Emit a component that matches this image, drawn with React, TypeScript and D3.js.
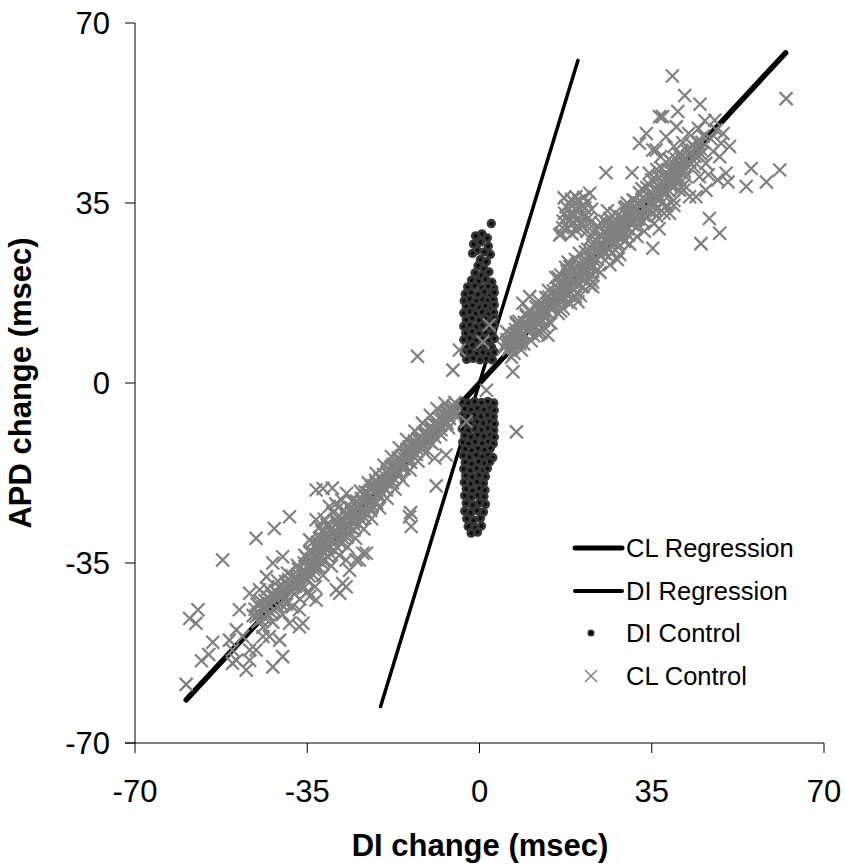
import React from "react";
import * as d3 from "d3";

const W = 845;
const H = 865;

const xTicks = [-70, -35, 0, 35, 70];
const yTicks = [-70, -35, 0, 35, 70];
const xTitle = "DI change (msec)";
const yTitle = "APD change (msec)";
const legendLabels = ["CL Regression", "DI Regression", "DI Control", "CL Control"];

// regression line end points (data units)
const clRegX = [-59.6, 62.2];
const clRegY = [-61.6, 64.2];
const diRegX = [-20.1, 20.0];
const diRegY = [-62.9, 62.7];

// DI Control points (x, y)
const diControl: [number, number][] = [
  [2.4, 31.0], [-0.8, 28.6], [0.5, 29.0], [1.6, 28.2], [-1.2, 27.0], [0.2, 27.4], [1.8, 26.6],
  [-0.5, 25.8], [1.0, 25.5], [2.2, 25.0], [-1.4, 25.2],
  [0.2, 24.0], [1.4, 23.6], [-0.3, 22.8], [0.9, 22.2], [1.9, 21.6], [-0.9, 21.4], [0.4, 20.9],
  [-1.6, 20.0], [-0.2, 19.8], [1.2, 20.2], [2.5, 19.6],
  [-2.4, 18.7], [-1.0, 18.9], [0.5, 18.5], [1.8, 18.8], [2.9, 18.4],
  [-2.9, 17.3], [-1.7, 17.6], [-0.3, 17.2], [1.0, 17.7], [2.2, 17.1], [3.0, 17.6],
  [-3.1, 16.0], [-2.0, 16.4], [-0.7, 15.9], [0.6, 16.3], [1.7, 16.0], [2.8, 16.2],
  [-2.7, 14.9], [-1.4, 15.1], [0.0, 14.7], [1.2, 15.0], [2.4, 14.6], [3.0, 15.2],
  [-3.2, 13.6], [-2.0, 13.9], [-0.8, 13.5], [0.5, 13.8], [1.8, 13.4], [2.9, 13.7],
  [-2.7, 12.3], [-1.5, 12.6], [-0.1, 12.2], [1.2, 12.5], [2.4, 12.1], [3.0, 12.6],
  [-3.2, 11.0], [-2.0, 11.3], [-0.7, 10.9], [0.6, 11.2], [1.8, 10.8], [2.9, 11.3],
  [-2.8, 9.7], [-1.5, 10.0], [-0.1, 9.6], [1.2, 9.9], [2.5, 9.5],
  [-3.2, 8.4], [-2.0, 8.7], [-0.7, 8.3], [0.6, 8.6], [1.8, 8.2], [3.0, 8.6],
  [-2.7, 7.1], [-1.4, 7.4], [0.0, 7.0], [1.3, 7.3], [2.5, 6.9],
  [-3.1, 5.8], [-2.0, 6.1], [-0.6, 5.7], [0.7, 6.0], [1.9, 5.6], [3.0, 6.0],
  [-2.6, 4.6], [-1.3, 4.8], [0.1, 4.5], [1.4, 4.7], [2.6, 4.5],
  [-3.5, -3.7], [-2.3, -3.9], [-1.0, -3.6], [0.4, -3.8], [1.7, -3.6], [2.9, -3.9],
  [-3.0, -5.0], [-1.7, -5.2], [-0.4, -4.9], [0.9, -5.2], [2.2, -4.9], [3.0, -5.3],
  [-3.6, -6.3], [-2.4, -6.5], [-1.1, -6.2], [0.3, -6.5], [1.6, -6.2], [2.8, -6.6],
  [-3.1, -7.6], [-1.9, -7.9], [-0.5, -7.5], [0.8, -7.8], [2.1, -7.5], [3.0, -7.9],
  [-3.5, -8.9], [-2.3, -9.2], [-1.0, -8.8], [0.4, -9.1], [1.7, -8.8], [2.9, -9.2],
  [-3.0, -10.2], [-1.7, -10.5], [-0.4, -10.1], [0.9, -10.4], [2.2, -10.1], [3.0, -10.5],
  [-3.4, -11.5], [-2.2, -11.8], [-0.9, -11.4], [0.5, -11.7], [1.8, -11.4], [2.8, -11.8],
  [-2.9, -12.8], [-1.6, -13.1], [-0.3, -12.7], [1.0, -13.0], [2.2, -12.7],
  [-3.3, -14.1], [-2.0, -14.4], [-0.7, -14.0], [0.6, -14.3], [1.8, -14.0], [2.7, -14.5],
  [-2.9, -15.4], [-1.6, -15.7], [-0.2, -15.3], [1.1, -15.6], [2.1, -15.3],
  [-3.2, -16.7], [-1.9, -17.0], [-0.6, -16.6], [0.7, -16.9], [1.6, -16.6],
  [-2.8, -18.0], [-1.5, -18.3], [-0.1, -17.9], [1.2, -18.2],
  [-3.1, -19.3], [-1.8, -19.6], [-0.5, -19.2], [0.8, -19.5],
  [-2.7, -20.6], [-1.4, -20.9], [0.0, -20.5], [1.1, -20.8],
  [-3.0, -21.9], [-1.7, -22.2], [-0.4, -21.8], [0.9, -22.1],
  [-2.7, -23.4], [-1.4, -23.7], [0.0, -23.3], [1.2, -23.6],
  [-3.0, -24.9], [-1.8, -25.2], [-0.5, -24.8], [0.8, -25.1],
  [-2.6, -26.4], [-1.2, -26.7], [0.2, -26.3],
  [-2.3, -27.9], [-0.9, -28.2], [0.4, -27.8],
  [-1.7, -29.2], [-0.4, -29.0],
];

// CL Control points (x, y)
const clControl: [number, number][] = [
  // lower scattered
  [-59.6, -58.6], [-58.9, -45.8], [-57.2, -44.1], [-57.6, -46.7], [-56.5, -54.0], [-55.0, -52.8],
  [-54.2, -50.4], [-52.2, -34.4], [-50.8, -50.0], [-50.2, -51.9], [-50.2, -54.5], [-49.4, -53.9],
  [-49.4, -48.0], [-48.8, -44.1], [-48.1, -49.3], [-47.4, -55.8], [-46.7, -53.9], [-46.7, -51.9],
  [-46.7, -40.9], [-45.4, -45.4], [-45.4, -30.2], [-45.4, -51.9], [-44.7, -40.2], [-44.0, -49.3],
  [-44.0, -43.5], [-43.3, -37.7], [-42.7, -49.3], [-42.0, -55.2], [-42.0, -41.5], [-42.0, -35.0],
  [-41.7, -28.3], [-40.6, -50.0], [-40.0, -53.2], [-40.0, -40.2], [-40.0, -33.8], [-38.6, -26.0],
  [-38.6, -46.7], [-37.9, -39.0], [-36.6, -47.4], [-36.6, -44.1], [-35.9, -46.7], [-34.5, -41.5],
  [-33.2, -42.2], [-33.2, -26.6], [-33.2, -20.8], [-31.8, -20.5], [-29.9, -20.4], [-29.1, -40.2],
  [-28.4, -40.9], [-27.8, -39.0], [-27.1, -39.6], [-27.1, -34.4], [-26.4, -36.4], [-25.1, -34.4],
  [-24.4, -34.4], [-23.7, -33.1], [-23.0, -33.1], [-14.2, -26.0], [-13.9, -27.9], [-14.0, -25.2],
  [-8.8, -20.0], [-9.1, -14.6], [-6.8, -14.0], [-12.6, 5.2], [-5.4, 2.5], [-4.1, 6.4],
  [1.4, -1.4], [-2.7, -7.5], [0.7, 8.0], [2.0, 11.3], [6.8, 2.2], [7.5, -9.5],
  // lower band
  [-46.0, -45.2], [-45.2, -43.0], [-44.5, -46.1], [-44.1, -44.0], [-43.6, -42.3], [-43.0, -45.0],
  [-42.6, -43.4], [-42.2, -41.0], [-41.7, -44.2], [-41.2, -42.0], [-40.8, -39.6], [-40.3, -43.0],
  [-39.8, -41.2], [-39.4, -38.6], [-39.0, -42.4], [-38.5, -40.1], [-38.1, -37.5], [-37.6, -41.0],
  [-37.2, -38.8], [-36.8, -36.2],
  [-45.6, -44.0], [-44.8, -45.0], [-44.3, -42.6], [-43.3, -43.9], [-42.9, -41.7], [-42.4, -44.6],
  [-41.5, -40.4], [-41.0, -43.4], [-40.5, -41.5], [-39.6, -39.9], [-39.2, -43.0], [-38.8, -38.2],
  [-38.0, -40.6], [-37.4, -39.5], [-36.9, -37.3],
  [-45.0, -46.4], [-43.8, -45.5], [-42.8, -42.9], [-41.9, -42.6], [-40.9, -41.1], [-39.9, -42.3],
  [-39.1, -39.3], [-38.2, -38.9], [-37.3, -37.8], [-36.6, -38.4],
  [-36.3, -39.1], [-35.8, -37.6], [-35.6, -35.0], [-35.0, -38.4], [-34.8, -36.0], [-34.1, -34.2],
  [-33.8, -37.3], [-33.6, -34.9], [-33.0, -32.4], [-32.6, -35.9], [-32.4, -33.2], [-31.8, -31.0],
  [-31.6, -34.6], [-31.0, -32.4], [-30.8, -29.7], [-30.2, -33.3], [-29.8, -30.5], [-29.6, -28.9],
  [-29.0, -31.9], [-28.8, -29.2], [-28.2, -27.5], [-27.8, -30.1], [-27.6, -28.5], [-27.0, -26.2],
  [-26.8, -29.3], [-26.2, -26.6], [-25.8, -24.9], [-25.6, -27.4], [-25.0, -25.7], [-24.8, -23.1],
  [-24.2, -26.5], [-23.8, -24.4], [-23.6, -21.7], [-23.0, -25.2], [-22.8, -22.5], [-22.2, -20.9],
  [-21.8, -23.8], [-21.6, -21.2], [-21.0, -19.4], [-20.6, -22.0], [-20.4, -19.9],
  [-30.5, -24.0], [-29.2, -23.5], [-28.0, -22.8], [-31.5, -26.5], [-27.0, -21.5], [-32.5, -28.0],
  [-34.5, -30.5],
  [-36.0, -36.5], [-35.7, -39.8], [-35.3, -36.7], [-35.1, -34.0], [-34.6, -37.5], [-34.3, -35.3],
  [-34.0, -32.8], [-33.7, -36.2], [-33.3, -33.8], [-33.1, -31.5], [-32.8, -34.4], [-32.2, -32.3],
  [-32.0, -30.2], [-31.7, -33.0], [-31.3, -31.6], [-31.1, -29.2], [-30.6, -32.0], [-30.4, -30.6],
  [-30.0, -28.2], [-29.7, -31.2], [-29.3, -29.8], [-28.9, -27.3], [-28.6, -30.4], [-28.4, -28.5],
  [-28.0, -26.3], [-27.7, -29.3], [-27.3, -27.6], [-26.9, -25.4], [-26.6, -28.1], [-26.4, -26.0],
  [-26.0, -24.3], [-25.7, -26.9], [-25.3, -25.0], [-25.0, -23.0], [-24.6, -25.8], [-24.4, -24.1],
  [-24.0, -22.4], [-23.7, -25.0], [-23.4, -23.2], [-23.2, -21.2], [-22.6, -23.8], [-22.4, -22.0],
  [-22.0, -20.2], [-21.7, -22.6], [-21.3, -21.0], [-21.1, -18.9], [-20.8, -21.5], [-20.5, -20.3],
  [-20.2, -18.6], [-29.8, -25.2], [-31.0, -27.5], [-32.0, -28.9], [-28.6, -24.2],
  [-35.4, -37.9], [-34.4, -33.0], [-33.5, -35.6], [-32.9, -31.0], [-32.1, -34.9], [-31.2, -30.3],
  [-30.9, -33.7], [-29.9, -29.4], [-29.4, -32.6], [-28.7, -28.0], [-28.1, -31.2], [-27.4, -26.9],
  [-26.9, -30.0], [-26.1, -25.3], [-25.5, -28.6], [-24.9, -24.3], [-24.5, -27.5], [-23.9, -23.0],
  [-23.3, -26.2], [-22.7, -21.3], [-22.1, -24.8], [-21.5, -20.0], [-20.9, -23.3], [-20.1, -21.0],
  [-44.0, -47.5], [-43.0, -40.0], [-42.0, -46.5], [-41.0, -38.5], [-40.0, -45.0], [-39.0, -37.0],
  [-38.0, -43.5], [-37.0, -35.5], [-36.5, -42.0], [-35.5, -33.5], [-34.8, -40.5], [-34.0, -31.0],
  [-33.4, -39.6], [-32.4, -30.0], [-31.8, -37.4], [-30.8, -28.0], [-30.1, -35.6], [-29.2, -26.6],
  [-28.5, -33.5], [-27.5, -24.8], [-26.8, -31.9], [-25.9, -23.0], [-25.2, -30.2], [-24.2, -21.0],
  [-23.5, -28.4], [-22.6, -19.4], [-21.9, -26.4], [-21.0, -17.6], [-20.3, -24.3], [-19.4, -16.0],
  [-18.8, -22.4], [-17.9, -14.3], [-17.2, -20.6], [-16.3, -12.6], [-15.6, -18.9], [-14.8, -11.0],
  [-14.1, -16.9], [-13.1, -9.4], [-12.5, -15.2], [-11.6, -7.8], [-11.0, -13.6], [-10.0, -6.3],
  [-9.6, -11.8], [-8.6, -5.0], [-7.9, -10.0], [-7.0, -4.0], [-6.3, -8.7], [-5.0, -3.8],
  [-19.8, -18.6], [-19.3, -20.4], [-18.7, -16.9], [-18.2, -18.8], [-17.6, -15.8], [-17.1, -17.5],
  [-16.5, -14.6], [-16.0, -16.3], [-15.4, -13.5], [-14.9, -15.0], [-14.3, -12.4], [-13.8, -13.9],
  [-13.2, -11.3], [-12.7, -12.8], [-12.1, -10.4], [-11.6, -11.7], [-11.0, -9.4], [-10.5, -10.6],
  [-9.9, -8.4], [-9.4, -9.6], [-8.8, -7.5], [-8.3, -8.7], [-7.7, -6.6], [-7.2, -7.8],
  [-6.6, -5.7], [-6.1, -6.9], [-5.6, -4.9], [-5.2, -6.0],
  [-19.9, -20.0], [-19.5, -17.8], [-19.0, -19.3], [-18.8, -17.4], [-18.4, -18.0], [-18.0, -16.3],
  [-17.8, -18.2], [-17.3, -16.5], [-16.9, -15.2], [-16.7, -17.0], [-16.2, -15.2], [-15.8, -14.2],
  [-15.6, -15.9], [-15.1, -14.1], [-14.7, -12.9], [-14.5, -14.4], [-14.0, -13.1], [-13.6, -11.8],
  [-13.4, -13.3], [-12.9, -12.0], [-12.5, -10.8], [-12.3, -12.1], [-11.8, -11.0], [-11.4, -9.8],
  [-11.2, -11.1], [-10.7, -10.0], [-10.3, -8.9], [-10.1, -10.2], [-9.6, -9.0], [-9.2, -8.0],
  [-9.0, -9.2], [-8.5, -8.1], [-8.1, -7.0], [-7.9, -8.2], [-7.4, -7.1], [-7.0, -6.2],
  [-6.8, -7.4], [-6.3, -6.3], [-5.9, -5.3], [-5.4, -5.5],
  [-19.6, -19.0], [-18.9, -20.8], [-18.3, -16.8], [-17.7, -19.4], [-17.0, -15.8], [-16.4, -17.8],
  [-15.9, -15.0], [-15.3, -16.6], [-14.6, -13.6], [-14.0, -15.4], [-13.5, -12.5], [-12.8, -13.9],
  [-12.2, -11.4], [-11.5, -12.6], [-10.9, -10.3], [-10.2, -11.4], [-9.7, -9.3], [-9.1, -10.5],
  [-8.4, -7.8], [-7.8, -9.1], [-7.3, -6.9], [-6.6, -7.9], [-6.0, -5.9], [-5.3, -4.5],
  // upper band
  [5.0, 6.8], [5.6, 8.4], [6.2, 7.0], [6.8, 9.1], [7.4, 7.9], [8.0, 9.8], [8.6, 8.9], [9.2, 10.9],
  [9.8, 10.0], [10.4, 12.1], [11.0, 11.0], [11.6, 13.2], [12.2, 12.2], [12.8, 14.3], [13.4, 13.1],
  [14.0, 15.4], [14.6, 14.3], [7.5, 11.5], [9.5, 13.0], [12.0, 9.5], [14.2, 11.8],
  [5.3, 7.6], [5.9, 6.5], [6.5, 8.2], [7.1, 9.6], [7.7, 8.5], [8.3, 10.2], [8.9, 9.4], [9.5, 11.5],
  [10.1, 10.6], [10.7, 11.6], [11.3, 12.6], [11.9, 11.4], [12.5, 13.5], [13.1, 14.6], [13.7, 13.9],
  [14.3, 15.9], [14.9, 15.1], [10.9, 13.4], [12.9, 12.1], [8.2, 7.6],
  [5.5, 10.0], [6.5, 5.0], [7.5, 11.8], [8.5, 6.4], [9.5, 13.4], [10.5, 8.2], [11.5, 14.8],
  [12.5, 9.8], [13.5, 16.6], [14.5, 11.6], [6.0, 9.5], [8.0, 12.0], [10.0, 14.0], [12.0, 16.0],
  [14.0, 18.0], [7.0, 5.8], [9.0, 7.6], [11.0, 9.2], [13.0, 11.0],
  [5.8, 7.9], [6.7, 7.6], [7.3, 10.4], [8.4, 8.8], [9.1, 11.8], [10.2, 11.1], [10.8, 12.8],
  [11.7, 12.0], [12.4, 14.8], [13.3, 13.9], [14.1, 16.7], [14.8, 14.5],
  [15.2, 16.8], [15.8, 18.5], [16.3, 15.9], [16.9, 19.6], [17.4, 17.4], [17.9, 20.8], [18.5, 18.6],
  [19.0, 21.9], [19.6, 19.5], [20.1, 22.5], [20.6, 20.3], [21.2, 23.4], [21.8, 21.5], [22.3, 24.2],
  [22.9, 22.4], [16.5, 21.0], [18.0, 15.8], [20.0, 17.5], [17.0, 14.5],
  [15.0, 17.9], [15.5, 15.6], [15.9, 17.3], [16.2, 19.8], [16.7, 17.9], [17.1, 16.2], [17.6, 19.0],
  [17.8, 21.8], [18.2, 17.2], [18.7, 20.3], [19.1, 18.2], [19.4, 21.0], [19.8, 23.0], [20.3, 19.1],
  [20.8, 21.6], [21.0, 18.7], [21.5, 22.4], [22.0, 20.6], [22.6, 23.3], [23.0, 21.0], [16.0, 20.5],
  [18.4, 22.6], [19.5, 16.8], [21.3, 20.2], [17.3, 18.6],
  [15.5, 20.5], [16.5, 14.0], [17.5, 22.5], [18.5, 15.5], [19.5, 24.0], [20.5, 17.0], [21.5, 25.5],
  [22.5, 19.0], [16.0, 13.5], [18.0, 23.5], [20.0, 15.8], [22.0, 26.0], [23.0, 19.6],
  [15.4, 17.2], [16.1, 16.7], [16.8, 18.8], [17.5, 17.9], [18.2, 20.1], [18.9, 19.6], [19.7, 21.5],
  [20.4, 20.8], [21.1, 22.6], [21.9, 22.9], [22.7, 24.6],
  [23.4, 25.6], [23.9, 27.5], [24.5, 24.8], [25.0, 28.6], [25.6, 26.5], [26.1, 29.8], [26.7, 27.4],
  [27.2, 30.7], [27.8, 28.6], [28.3, 31.2], [28.9, 29.4], [29.4, 31.8], [30.0, 30.0], [24.0, 30.5],
  [26.5, 32.0], [22.5, 28.0], [27.0, 25.3], [29.5, 27.5],
  [23.0, 26.8], [23.6, 24.3], [24.2, 26.2], [24.4, 28.7], [24.8, 27.0], [25.3, 25.3], [25.5, 29.5],
  [25.9, 27.6], [26.4, 26.0], [26.9, 28.7], [27.0, 31.4], [27.5, 29.4], [28.0, 27.3], [28.6, 30.2],
  [28.7, 32.3], [29.1, 28.4], [29.7, 30.6], [30.2, 31.4], [24.6, 31.2], [25.8, 31.0], [23.2, 29.2],
  [22.8, 26.0], [28.2, 26.4], [26.2, 24.6], [30.3, 28.7],
  [23.5, 29.8], [24.5, 21.5], [25.5, 31.5], [26.5, 23.0], [27.5, 33.0], [28.5, 25.0], [29.5, 34.0],
  [30.5, 27.0], [31.5, 35.5], [24.0, 22.0], [26.0, 33.5], [28.0, 24.0], [30.0, 35.0], [32.0, 28.5],
  [23.3, 23.8], [24.1, 25.6], [24.9, 26.2], [25.4, 28.0], [26.3, 28.4], [27.1, 29.0], [27.9, 30.4],
  [28.5, 29.2], [29.3, 30.9], [29.9, 32.6],
  [30.6, 32.5], [31.1, 30.8], [31.7, 33.6], [32.2, 31.9], [32.8, 34.5], [33.3, 32.6], [33.9, 35.4],
  [34.4, 33.5], [35.0, 36.6], [35.5, 34.6], [36.1, 37.5], [36.6, 35.8], [37.2, 38.9], [37.7, 36.9],
  [38.3, 40.2], [38.8, 38.4], [39.4, 41.3], [39.9, 39.6],
  [30.4, 31.6], [30.9, 33.8], [31.4, 32.2], [31.9, 30.4], [32.0, 35.0], [32.5, 33.2], [33.0, 31.6],
  [33.2, 36.0], [33.6, 34.0], [34.1, 32.3], [34.3, 36.4], [34.7, 34.6], [35.2, 35.3], [35.7, 37.6],
  [35.9, 33.6], [36.4, 36.5], [36.9, 38.5], [37.0, 35.0], [37.5, 37.5], [38.0, 39.3], [38.5, 37.4],
  [39.1, 40.0], [39.6, 38.2], [40.2, 41.3], [40.7, 39.8],
  [32.5, 37.0], [33.5, 29.5], [34.5, 38.5], [35.5, 31.0], [36.5, 40.0], [37.5, 33.0], [38.5, 41.5],
  [39.5, 35.5], [40.5, 44.5], [41.5, 37.5], [33.0, 37.8], [35.0, 39.5], [37.0, 41.8], [39.0, 43.0],
  [36.0, 32.5], [38.0, 34.5],
  [30.8, 31.9], [31.6, 34.3], [32.4, 32.6], [33.1, 35.0], [33.8, 33.7], [34.6, 36.0], [35.4, 36.3],
  [36.2, 38.4], [37.0, 37.2], [37.8, 39.8], [38.6, 39.0], [39.3, 41.8], [40.1, 40.5],
  [40.5, 42.5], [41.0, 44.0], [41.6, 41.2], [42.1, 45.2], [42.7, 43.0], [43.2, 46.3], [43.8, 44.1],
  [44.3, 47.0], [44.9, 45.5], [45.5, 48.0],
  [40.0, 43.5], [40.8, 41.0], [41.3, 43.3], [41.9, 42.4], [42.4, 44.2], [43.0, 44.8], [43.5, 43.2],
  [44.1, 45.6], [44.6, 46.5], [45.2, 46.8],
  // cluster above band
  [16.3, 28.8], [16.6, 29.1], [17.0, 31.5], [17.6, 34.3], [18.0, 30.0], [18.4, 32.8], [19.0, 32.4],
  [19.3, 35.0], [19.6, 36.2], [20.0, 33.5], [20.5, 31.0], [21.0, 30.4], [21.4, 34.0], [22.0, 32.0],
  [22.4, 36.9], [22.8, 33.8], [17.2, 36.0], [18.8, 29.0], [21.8, 29.5], [19.9, 30.5],
  [16.9, 30.2], [17.7, 32.3], [18.3, 34.8], [18.9, 31.2], [19.5, 33.8], [20.2, 35.4], [20.7, 32.6],
  [21.2, 36.1], [21.9, 35.2], [22.6, 31.3],
  [17.3, 33.0], [18.1, 31.4], [18.7, 35.7], [19.2, 33.0], [20.0, 31.8], [20.9, 34.5], [21.6, 32.7],
  [19.7, 29.6],
  // upper scattered
  [39.2, 59.7], [41.7, 55.9], [44.8, 54.2], [62.3, 55.3], [36.6, 51.8], [40.3, 52.8], [47.8, 51.1],
  [55.2, 41.7], [61.0, 41.4], [58.3, 39.1], [54.2, 38.2], [50.5, 39.1], [48.4, 39.5], [50.8, 46.0],
  [48.8, 44.0], [46.7, 32.0], [48.8, 29.1], [45.0, 27.1], [44.0, 36.2], [46.0, 37.5], [42.7, 36.2],
  [33.9, 48.5], [35.2, 45.3], [37.9, 47.9], [40.0, 49.8], [41.3, 46.7], [43.3, 45.3], [46.0, 42.7],
  [44.7, 40.1], [42.0, 40.1], [40.6, 37.5], [37.9, 36.9], [48.1, 49.2], [49.1, 46.6], [25.7, 40.9],
  [31.0, 40.9], [37.2, 51.8], [32.5, 46.6], [35.9, 45.3], [34.5, 40.8], [50.1, 40.8], [38.6, 33.0],
  [29.8, 34.3], [31.2, 35.6], [31.8, 31.7], [27.8, 29.7], [35.2, 26.2], [23.0, 18.7], [20.3, 25.2],
  [10.2, 16.8], [8.8, 15.5], [13.9, 9.3], [36.5, 30.0], [39.5, 34.5], [41.5, 38.5],
  [36.0, 41.5], [38.5, 43.5], [39.5, 46.0], [41.0, 42.5], [43.5, 42.0], [45.0, 44.5], [47.0, 47.5],
  [38.0, 40.0], [42.5, 48.5], [44.5, 49.5], [46.5, 40.5], [47.5, 45.0], [36.8, 44.0], [34.0, 38.0],
  [45.8, 51.0], [49.5, 48.5],
];

const FONT = "'Liberation Sans', Arial, Helvetica, sans-serif";
const CROSS = "M-6.5,-6.5L6.5,6.5M-6.5,6.5L6.5,-6.5";

export default function App() {
  const x = d3.scaleLinear().domain([-70, 70]).range([135, 824]);
  const y = d3.scaleLinear().domain([-70, 70]).range([743, 23]);
  const line = d3
    .line<[number, number]>()
    .x((d) => x(d[0]))
    .y((d) => y(d[1]));
  const clLine: [number, number][] = clRegX.map((v, i) => [v, clRegY[i]]);
  const diLine: [number, number][] = diRegX.map((v, i) => [v, diRegY[i]]);

  const legX = 565;
  const legY = [548, 591, 633, 676];

  return (
    <svg
      width={W}
      height={H}
      style={{ position: "absolute", left: 0, top: 0, background: "#fff" }}
      fontFamily={FONT}
    >
      <rect x={0} y={0} width={W} height={H} fill="#fff" />
      {/* axes */}
      <line x1={x(-70)} x2={x(-70)} y1={y(70)} y2={y(-70)} stroke="#000" strokeWidth={1} />
      <line x1={x(-70) - 10} x2={x(70)} y1={y(-70)} y2={y(-70)} stroke="#000" strokeWidth={1} />
      {yTicks.map((t) => (
        <g key={"yt" + t}>
          <line x1={x(-70) - 10} x2={x(-70)} y1={y(t)} y2={y(t)} stroke="#000" strokeWidth={1} />
          <text x={110} y={y(t) + 11} fontSize={31} textAnchor="end" fill="#000">
            {t}
          </text>
        </g>
      ))}
      {xTicks.map((t) => (
        <g key={"xt" + t}>
          <line x1={x(t)} x2={x(t)} y1={y(-70)} y2={y(-70) + 10} stroke="#000" strokeWidth={1} />
          <text x={x(t)} y={802} fontSize={31} textAnchor="middle" fill="#000">
            {t}
          </text>
        </g>
      ))}
      {/* titles */}
      <text x={480} y={856} fontSize={31} fontWeight="bold" textAnchor="middle" fill="#000">
        {xTitle}
      </text>
      <text
        transform={`translate(31,${y(0)}) rotate(-90)`}
        fontSize={31}
        fontWeight="bold"
        textAnchor="middle"
        fill="#000"
      >
        {yTitle}
      </text>

      {/* regression lines */}
      <path d={line(clLine) || ""} stroke="#000" strokeWidth={5.5} fill="none" strokeLinecap="round" />
      <path d={line(diLine) || ""} stroke="#000" strokeWidth={3.5} fill="none" strokeLinecap="round" />

      {/* DI control */}
      {diControl.map((d, i) => (
        <circle key={"di" + i} cx={x(d[0])} cy={y(d[1])} r={3.3} fill="#0a0a0a" stroke="#383838" strokeWidth={2.8} />
      ))}
      {/* CL control */}
      {clControl.map((d, i) => (
        <path
          key={"cl" + i}
          d={CROSS}
          transform={`translate(${x(d[0])},${y(d[1])})`}
          stroke="#808080"
          strokeWidth={2.2}
          fill="none"
        />
      ))}

      {/* legend */}
      <line x1={legX + 10} x2={legX + 57} y1={legY[0]} y2={legY[0]} stroke="#000" strokeWidth={5} strokeLinecap="round" />
      <line x1={legX + 10} x2={legX + 57} y1={legY[1]} y2={legY[1]} stroke="#000" strokeWidth={4} strokeLinecap="round" />
      <circle cx={591} cy={legY[2]} r={2.8} fill="#0a0a0a" stroke="#383838" strokeWidth={1.5} />
      <path d={"M-6,-6L6,6M-6,6L6,-6"} transform={`translate(591,${legY[3]})`} stroke="#808080" strokeWidth={1.5} fill="none" />
      {legendLabels.map((l, i) => (
        <text key={"lg" + i} x={626} y={legY[i] + 9} fontSize={25.5} fill="#000">
          {l}
        </text>
      ))}
    </svg>
  );
}
